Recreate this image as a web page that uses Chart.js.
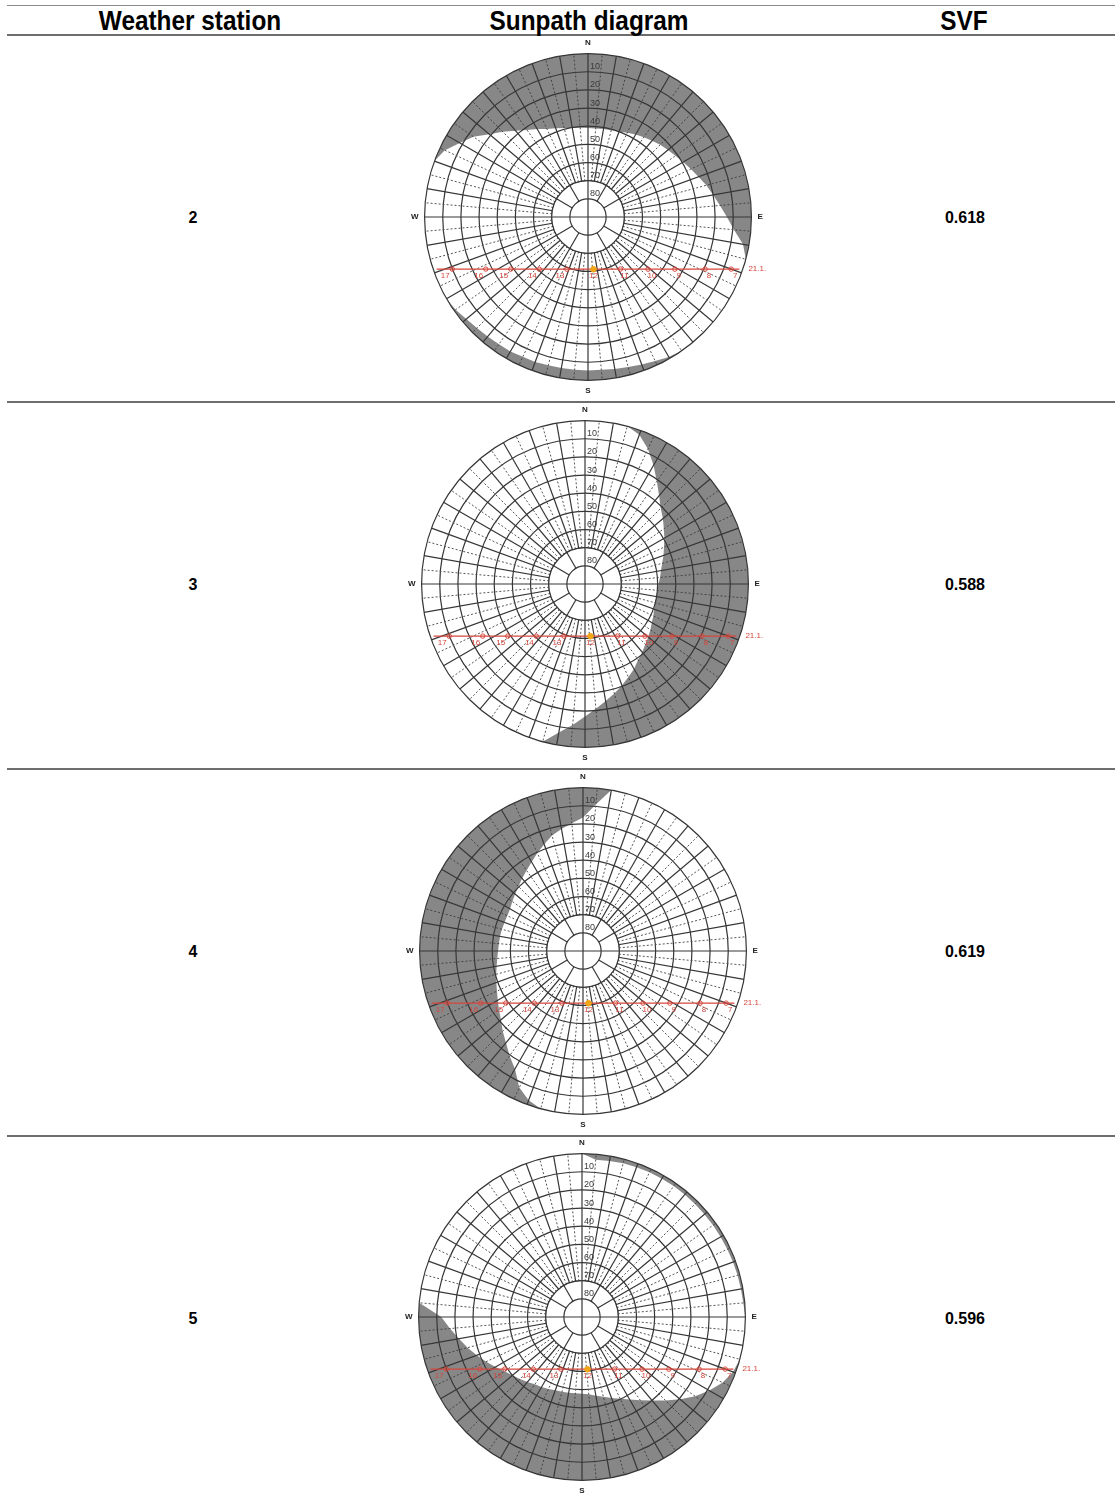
<!DOCTYPE html>
<html>
<head>
<meta charset="utf-8">
<script src="https://cdn.jsdelivr.net/npm/chart.js@4.4.1/dist/chart.umd.min.js"></script>
<style>
  body { margin: 0; width: 1115px; height: 1495px; position: relative; overflow: hidden; background: #fff;
         font-family: "Liberation Sans", Arial, sans-serif; color: #000; }
  .rule { position: absolute; left: 7px; right: 0; height: 2px; background: #6e6e6e; }
  .head { position: absolute; top: 7px; width: 300px; text-align: center; font-size: 28px; line-height: 28px;
          font-weight: bold; transform: scaleX(0.87); }
  .cell { position: absolute; width: 120px; height: 20px; line-height: 20px; text-align: center;
          font-size: 16px; font-weight: bold; }
  canvas { position: absolute; }
</style>
</head>
<body>
<div class="rule" style="top:5px;height:1px;background:#8a8a8a"></div>
<div class="rule" style="top:34px"></div>
<div class="rule" style="top:401px"></div>
<div class="rule" style="top:768px"></div>
<div class="rule" style="top:1135px"></div>

<div class="head" style="left:40px">Weather station</div>
<div class="head" style="left:439px">Sunpath diagram</div>
<div class="head" style="left:814px">SVF</div>

<div id="rows"></div>

<script>
// one label per degree of azimuth, clockwise from north
const azimuths = Array.from({ length: 360 }, (_, i) => i);
const compass = { 0: 'N', 90: 'E', 180: 'S', 270: 'W' };
const altitudeTicks = [10, 20, 30, 40, 50, 60, 70, 80];

const stations = ['2', '3', '4', '5'];
const svf = ['0.618', '0.588', '0.619', '0.596'];

// obstruction altitude (deg) every 5 deg of azimuth, starting at north
const profileStep = 5;
const horizon2 = [
  41, 41, 40.8, 40.5, 40, 38.8, 37.5, 36.3, 35.2, 33.8, 32.5, 31.2,
  29.5, 27.5, 25.3, 22.5, 20, 17, 13.5, 9.3, 3.3, 0, 0, 0,
  0, 0, 0, 0, 0, 0, 1, 2.5, 3.5, 4.5, 5, 5.5,
  5.5, 5.5, 5.5, 5.5, 5, 5, 4.5, 4.5, 4, 3.5, 2.5, 1,
  0, 0, 0, 0, 0, 0, 0, 0, 0, 0, 0, 3,
  8.5, 13, 19, 23.5, 28, 31.5, 34, 36.5, 38, 39.3, 40.2, 40.7
];
const horizon3 = [
  0, 0, 0, 0, 2.5, 8, 14.5, 21, 26.5, 31, 34, 37,
  39.5, 42, 44, 46, 47.5, 48.5, 49.5, 50, 50, 50, 49.5, 48.5,
  47.5, 46, 44.5, 43, 41, 39, 36, 33.5, 30.5, 27.5, 24.5, 21,
  17, 12, 7, 0, 0, 0, 0, 0, 0, 0, 0, 0,
  0, 0, 0, 0, 0, 0, 0, 0, 0, 0, 0, 0,
  0, 0, 0, 0, 0, 0, 0, 0, 0, 0, 0, 0
];
const horizon4 = [
  16.5, 9, 0, 0, 0, 0, 0, 0, 0, 0, 0, 0,
  0, 0, 0, 0, 0, 0, 0, 0, 0, 0, 0, 0,
  0, 0, 0, 0, 0, 0, 0, 0, 0, 0, 0, 0,
  0, 0, 0, 0, 2.5, 7, 15, 19.5, 24, 27.5, 31, 33.5,
  35.8, 37.7, 39.2, 40.5, 41.7, 42.6, 43.2, 43.5, 43.6, 43.8, 44, 44,
  43.6, 42.5, 41.2, 39.8, 37.8, 35.8, 33.4, 30.5, 27.5, 24.2, 21.7, 19.3
];
const horizon5 = [
  0, 3, 2.8, 2.3, 2.2, 2.1, 2, 2, 2, 2, 2, 1.9,
  1.8, 1.7, 1.5, 1.3, 1.1, 0.8, 0, 0, 0, 0, 1.5, 4.5,
  9, 14, 19.5, 25, 30, 34, 37.5, 40.3, 42.5, 44.5, 46, 47.3,
  47.7, 47.8, 47.6, 47.4, 47, 46.3, 45.5, 44.7, 43.3, 41.7, 40, 37.8,
  35, 31.8, 28.3, 24.8, 21.2, 17, 12.5, 0, 0, 0, 0, 0,
  0, 0, 0, 0, 0, 0, 0, 0, 0, 0, 0, 0
];
const horizons = [horizon2, horizon3, horizon4, horizon5];

// sun path for 21.1., from sunrise (east) to sunset (west)
const sunDate = '21.1.';
const sunHours = ['', '7', '8', '9', '10', '11', '12', '13', '14', '15', '16', '17', ''];
const sunAz = [109, 110, 114, 121, 131, 148, 174, 202, 223, 236, 243, 249, 251];
const sunAlt = [1.8, 6.1, 19.4, 34.2, 46.2, 56.2, 61.1, 59.0, 50.7, 38.7, 26.8, 9.9, 1.8];

// diagram centres on the page
const centres = [[588, 218], [585, 585], [583, 952], [582, 1318]];
const rowY = [218, 585, 952, 1319];

const gridColor = '#363636';
const dotColor = '#555';
const sunColor = '#d6463c';
const noonColor = '#f2a516';
const fontFamily = '"Liberation Sans", Arial, sans-serif';

function profileData(alts) {
  const data = azimuths.map(() => null);
  alts.forEach((v, k) => { data[k * profileStep] = v; });
  return data;
}

const sunData = azimuths.map(() => null);
sunAz.forEach((a, k) => { sunData[a] = sunAlt[k]; });

function hourAt(index) {
  const k = sunAz.indexOf(index);
  return k < 0 ? '' : sunHours[k];
}

// blank out the zenith area and draw the coarser inner rings
const innerRings = {
  id: 'innerRings',
  beforeDatasetsDraw(chart) {
    const r = chart.scales.r;
    const ctx = chart.ctx;
    const r70 = r.getDistanceFromCenterForValue(70);
    const r80 = r.getDistanceFromCenterForValue(80);
    ctx.save();
    ctx.fillStyle = '#fff';
    ctx.beginPath();
    ctx.arc(r.xCenter, r.yCenter, r70, 0, Math.PI * 2);
    ctx.fill();
    ctx.strokeStyle = gridColor;
    ctx.lineWidth = 1.2;
    [r70, r80].forEach(d => {
      ctx.beginPath();
      ctx.arc(r.xCenter, r.yCenter, d, 0, Math.PI * 2);
      ctx.stroke();
    });
    for (let a = 0; a < 360; a += 30) {
      const p0 = r.getPointPosition(a, a % 90 === 0 ? 0 : r80);
      const p1 = r.getPointPosition(a, r70);
      ctx.beginPath();
      ctx.moveTo(p0.x, p0.y);
      ctx.lineTo(p1.x, p1.y);
      ctx.stroke();
    }
    ctx.restore();
  }
};

// altitude numbers along the north axis, hour numbers and the date
const diagramText = {
  id: 'diagramText',
  afterDatasetsDraw(chart) {
    const r = chart.scales.r;
    const ctx = chart.ctx;
    ctx.save();
    ctx.textAlign = 'center';
    ctx.textBaseline = 'middle';
    ctx.font = '9px ' + fontFamily;
    ctx.fillStyle = '#3a3a3a';
    altitudeTicks.forEach(v => {
      const p = r.getPointPositionForValue(0, v);
      ctx.fillText(String(v), p.x + 7, p.y - 5);
    });

    const pts = chart.getDatasetMeta(0).data;
    ctx.font = '8px ' + fontFamily;
    ctx.fillStyle = sunColor;
    sunAz.forEach((a, k) => {
      if (!sunHours[k]) return;
      const p = pts[a];
      const dx = p.x - r.xCenter;
      const shift = dx < -10 ? -7 : dx > 10 ? 4 : 0;
      ctx.fillText(sunHours[k], p.x + shift, p.y + 7);
    });
    const east = pts[sunAz[0]];
    ctx.textAlign = 'left';
    ctx.fillText(sunDate, east.x + 9, east.y);
    ctx.restore();
  }
};

function drawDiagram(canvas, alts) {
  return new Chart(canvas, {
    type: 'radar',
    data: {
      labels: azimuths,
      datasets: [
        {
          label: 'Sun path',
          data: sunData,
          spanGaps: true,
          fill: false,
          tension: 0,
          borderColor: sunColor,
          borderWidth: 1.2,
          pointRadius: ctx => {
            const h = hourAt(ctx.index);
            return h === '' ? 0 : (h === '12' ? 2.8 : 2.2);
          },
          pointBackgroundColor: ctx => hourAt(ctx.index) === '12' ? noonColor : 'rgba(255,255,255,0)',
          pointBorderColor: ctx => hourAt(ctx.index) === '12' ? noonColor : sunColor,
          pointBorderWidth: 1
        },
        {
          label: 'Obstruction',
          data: profileData(alts),
          spanGaps: true,
          fill: 'end',
          tension: 0,
          backgroundColor: 'rgba(55,55,55,0.6)',
          borderWidth: 0,
          pointRadius: 0
        }
      ]
    },
    options: {
      responsive: false,
      animation: false,
      events: [],
      plugins: {
        legend: { display: false },
        tooltip: { enabled: false }
      },
      scales: {
        r: {
          min: 0,
          max: 90,
          reverse: true,
          ticks: { display: false, stepSize: 10 },
          grid: { circular: true, color: gridColor, lineWidth: 1.2 },
          angleLines: {
            color: ctx => ctx.index % 10 === 0 ? gridColor : dotColor,
            lineWidth: ctx => ctx.index % 10 === 0 ? 1.2 : (ctx.index % 5 === 0 ? 1 : 0),
            borderDash: ctx => ctx.index % 10 === 0 ? [] : [2, 2]
          },
          pointLabels: {
            callback: (value, index) => compass[index] || '',
            color: '#222',
            padding: ctx => ctx.label ? 6 : 0,
            font: ctx => ({ size: ctx.label ? 8 : 1, weight: 'bold', family: fontFamily })
          }
        }
      }
    },
    plugins: [innerRings, diagramText]
  });
}

const rows = document.getElementById('rows');
stations.forEach((name, i) => {
  const left = document.createElement('div');
  left.className = 'cell';
  left.style.left = (193 - 60) + 'px';
  left.style.top = (rowY[i] - 10) + 'px';
  left.textContent = name;
  rows.appendChild(left);

  const right = document.createElement('div');
  right.className = 'cell';
  right.style.left = (965 - 60) + 'px';
  right.style.top = (rowY[i] - 10) + 'px';
  right.textContent = svf[i];
  rows.appendChild(right);

  const canvas = document.createElement('canvas');
  canvas.width = 400;
  canvas.height = 358;
  canvas.style.left = (centres[i][0] - 200) + 'px';
  canvas.style.top = (centres[i][1] - 179) + 'px';
  rows.appendChild(canvas);
  drawDiagram(canvas, horizons[i]);
});
</script>
</body>
</html>
